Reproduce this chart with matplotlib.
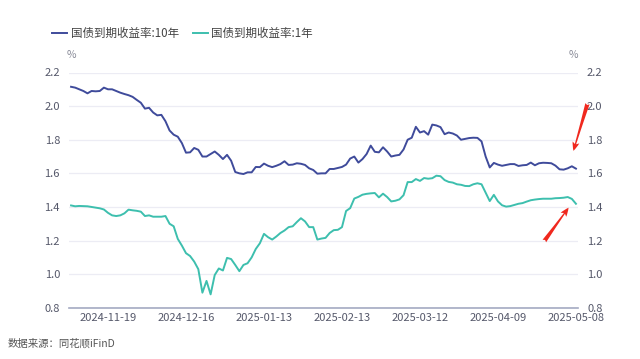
import numpy as np
import matplotlib
matplotlib.use("Agg")
import matplotlib.pyplot as plt

plt.rcParams['font.family'] = ['Noto Sans CJK SC', 'DejaVu Sans']

# --------------------------------
# data (one value per trading day)
# --------------------------------
yield_10y = [
    2.115, 2.110, 2.100, 2.090, 2.076, 2.090, 2.088, 2.090, 2.110, 2.100,
    2.100, 2.090, 2.080, 2.072, 2.065, 2.055, 2.037, 2.020, 1.985, 1.990,
    1.962, 1.945, 1.948, 1.910, 1.855, 1.830, 1.818, 1.780, 1.723, 1.725,
    1.751, 1.740, 1.700, 1.700, 1.715, 1.730, 1.710, 1.685, 1.710, 1.675,
    1.608, 1.600, 1.596, 1.606, 1.606, 1.638, 1.637, 1.658, 1.645, 1.637,
    1.645, 1.655, 1.672, 1.650, 1.652, 1.660, 1.657, 1.650, 1.630, 1.620,
    1.598, 1.600, 1.600, 1.626, 1.626, 1.632, 1.638, 1.652, 1.688, 1.700,
    1.664, 1.685, 1.715, 1.765, 1.728, 1.725, 1.755, 1.730, 1.700, 1.706,
    1.710, 1.742, 1.800, 1.812, 1.877, 1.843, 1.851, 1.830, 1.890, 1.885,
    1.875, 1.833, 1.843, 1.837, 1.825, 1.800, 1.805, 1.810, 1.812, 1.811,
    1.790, 1.700, 1.635, 1.662, 1.652, 1.645, 1.650, 1.655, 1.655, 1.644,
    1.648, 1.650, 1.664, 1.648, 1.660, 1.663, 1.662, 1.660, 1.646, 1.624,
    1.622, 1.630, 1.642, 1.628,
]
yield_1y = [
    1.409, 1.404, 1.406, 1.405, 1.404, 1.400, 1.396, 1.392, 1.385, 1.365,
    1.350, 1.346, 1.350, 1.362, 1.384, 1.380, 1.377, 1.372, 1.346, 1.350,
    1.342, 1.342, 1.342, 1.346, 1.300, 1.285, 1.210, 1.170, 1.125, 1.108,
    1.075, 1.030, 0.890, 0.960, 0.880, 0.995, 1.034, 1.022, 1.097, 1.090,
    1.055, 1.018, 1.055, 1.065, 1.100, 1.150, 1.184, 1.240, 1.220, 1.206,
    1.224, 1.245, 1.260, 1.280, 1.285, 1.310, 1.333, 1.314, 1.280, 1.280,
    1.206, 1.212, 1.216, 1.245, 1.262, 1.264, 1.280, 1.376, 1.393, 1.450,
    1.460, 1.473, 1.478, 1.481, 1.483, 1.457, 1.479, 1.459, 1.433, 1.437,
    1.445, 1.470, 1.548, 1.548, 1.566, 1.555, 1.572, 1.568, 1.571, 1.586,
    1.583, 1.560, 1.549, 1.545, 1.535, 1.532, 1.525, 1.524, 1.535, 1.541,
    1.535, 1.485, 1.435, 1.472, 1.433, 1.410, 1.402, 1.405, 1.412, 1.419,
    1.423, 1.432, 1.440, 1.444, 1.447, 1.449, 1.449, 1.449, 1.452, 1.453,
    1.455, 1.459, 1.448, 1.419,
]
tick_index = [9, 28, 47, 66, 85, 104, 123]
tick_labels = ["2024-11-19", "2024-12-16", "2025-01-13", "2025-02-13",
               "2025-03-12", "2025-04-09", "2025-05-08"]
y_ticks = [0.8, 1.0, 1.2, 1.4, 1.6, 1.8, 2.0, 2.2]

c10 = "#3f4b9b"
c1 = "#3dbfae"
txt = "#55586a"

x = np.arange(len(yield_10y))

# --------------------------------
# plot
# --------------------------------
fig = plt.figure(figsize=(6.4, 3.59), dpi=100)
ax = fig.add_axes([69 / 640, 1 - 307.8 / 359, (578 - 69) / 640, (307.8 - 72.5) / 359])

ax.plot(x, yield_10y, color=c10, lw=1.4, label="国债到期收益率:10年")
ax.plot(x, yield_1y, color=c1, lw=1.4, label="国债到期收益率:1年")

ax.set_xlim(-0.5, len(x) - 0.5)
ax.set_ylim(0.8, 2.2)
ax.set_yticks(y_ticks)
ax.set_yticklabels([f"{v:.1f}" for v in y_ticks])
ax.set_xticks(tick_index)
ax.set_xticklabels(tick_labels)

ax.grid(axis="y", color="#ececf4", lw=0.9)
ax.set_axisbelow(True)
for s in ["top", "left", "right"]:
    ax.spines[s].set_visible(False)
ax.spines["bottom"].set_color("#a4aac2")
ax.spines["bottom"].set_linewidth(1.2)

ax.tick_params(axis="both", length=0, labelsize=8, labelcolor=txt)
ax.tick_params(axis="y", labelright=True, pad=6.5)
ax.tick_params(axis="x", pad=4)

ax.text(-0.005, 1.055, "%", transform=ax.transAxes, fontsize=7.5, color="#8a8c99",
        ha="left", va="bottom")
ax.text(1.0, 1.055, "%", transform=ax.transAxes, fontsize=7.5, color="#8a8c99",
        ha="right", va="bottom")

fig.legend(loc="upper left", bbox_to_anchor=(42 / 640, 1 - 17 / 359), ncol=2,
           frameon=False, fontsize=8.3, handlelength=1.3, handletextpad=0.3,
           columnspacing=1.2, labelcolor="#444")

# red arrows pointing at the last values
n = len(x) - 1
arrow = dict(arrowstyle="fancy,head_length=0.7,head_width=0.55,tail_width=0.35",
             color="#f0281e", lw=0, mutation_scale=9)
ax.annotate("", xy=(n - 0.8, yield_10y[-1] + 0.09), xytext=(n + 3, 2.03),
            arrowprops=arrow, annotation_clip=False)
ax.annotate("", xy=(n - 1.4, yield_1y[-1] - 0.01), xytext=(n - 8.1, 1.184),
            arrowprops=arrow, annotation_clip=False)

fig.text(8 / 640, 1 - 344 / 359, "数据来源：同花顺iFinD", fontsize=7.5, color="#555",
         ha="left", va="center")

fig.savefig("out.png", dpi=100)
